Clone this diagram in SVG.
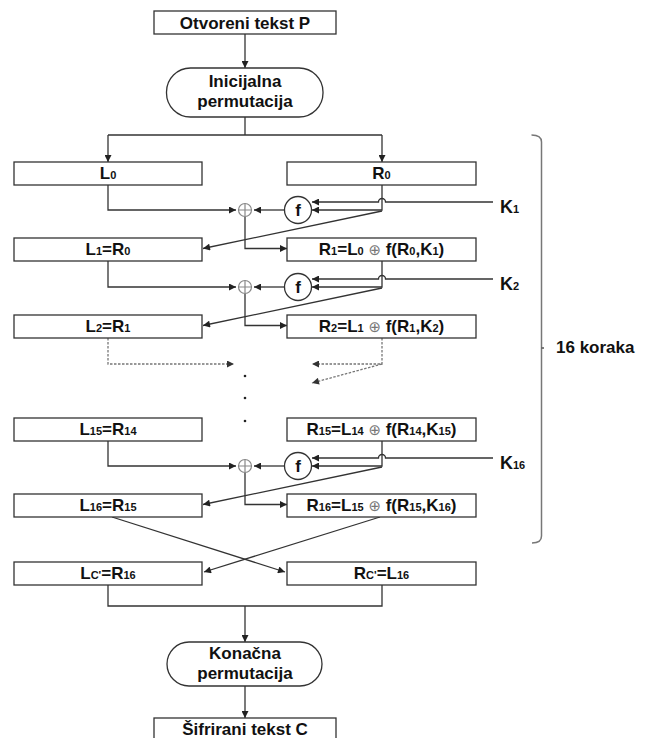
<svg xmlns="http://www.w3.org/2000/svg" width="648" height="738" viewBox="0 0 648 738">
<defs>
<style>
.box{fill:#fff;stroke:#333;stroke-width:1.3}
.t{font-family:"Liberation Sans",Arial,sans-serif;font-weight:bold;font-size:17px;fill:#111;text-anchor:middle}
.lbl{font-family:"Liberation Sans",Arial,sans-serif;font-weight:bold;font-size:17px;fill:#111}
.s{font-size:11px}
.op{font-family:"DejaVu Sans",sans-serif;font-weight:normal;fill:#777;font-size:15px}
.c{fill:none;stroke:#333;stroke-width:1.3}
.d{fill:none;stroke:#777;stroke-width:1.3;stroke-dasharray:2.5 1.5}
.xor{fill:#fff;stroke:#888;stroke-width:1.2}
.fc{fill:#fff;stroke:#333;stroke-width:1.3}
</style>
<marker id="ah" viewBox="0 0 10 10" refX="10" refY="5" markerWidth="8" markerHeight="7" markerUnits="userSpaceOnUse" orient="auto"><path d="M0,0 L10,5 L0,10 z" fill="#222"/></marker>
<marker id="ahg" viewBox="0 0 10 10" refX="10" refY="5" markerWidth="8" markerHeight="7" markerUnits="userSpaceOnUse" orient="auto"><path d="M0,0 L10,5 L0,10 z" fill="#333"/></marker>
</defs>
<rect width="648" height="738" fill="#fff"/>

<g id="connectors">
<path class="c" d="M245 34 V68" marker-end="url(#ah)"/>
<path class="c" d="M245 117 V135"/>
<path class="c" d="M108 135 H382"/>
<path class="c" d="M108 135 V162" marker-end="url(#ah)"/>
<path class="c" d="M382 135 V162" marker-end="url(#ah)"/>
<!-- round 1 -->
<path class="c" d="M108 185 V210 H236" marker-end="url(#ah)"/>
<path class="c" d="M284.5 210 H254" marker-end="url(#ah)"/>
<path class="c" d="M245 216.5 V248.5 H287" marker-end="url(#ah)"/>
<path class="c" d="M382 185 V210 H312" marker-end="url(#ah)"/>
<path class="c" d="M493 202 H385.5 A3.5 3.5 0 0 0 378.5 202 H312" marker-end="url(#ah)"/>
<path class="c" d="M382 211 L203 248.5" marker-end="url(#ah)"/>
<!-- round 2 -->
<path class="c" d="M108 261 V287 H236" marker-end="url(#ah)"/>
<path class="c" d="M284.5 287 H254" marker-end="url(#ah)"/>
<path class="c" d="M245 293.5 V325.5 H287" marker-end="url(#ah)"/>
<path class="c" d="M382 261 V287 H312" marker-end="url(#ah)"/>
<path class="c" d="M493 279 H385.5 A3.5 3.5 0 0 0 378.5 279 H312" marker-end="url(#ah)"/>
<path class="c" d="M382 288 L203 325.5" marker-end="url(#ah)"/>
<!-- dotted continuation -->
<path class="d" d="M108 338 V364 H234" marker-end="url(#ahg)"/>
<path class="d" d="M382 338 V364 H312" marker-end="url(#ahg)"/>
<path class="d" d="M382 364 L312 383" marker-end="url(#ahg)"/>
<!-- round 16 -->
<path class="c" d="M108 441 V466 H236" marker-end="url(#ah)"/>
<path class="c" d="M284.5 466 H254" marker-end="url(#ah)"/>
<path class="c" d="M245 472.5 V504.5 H287" marker-end="url(#ah)"/>
<path class="c" d="M382 441 V466 H312" marker-end="url(#ah)"/>
<path class="c" d="M493 458 H385.5 A3.5 3.5 0 0 0 378.5 458 H312" marker-end="url(#ah)"/>
<path class="c" d="M382 467 L203 504.5" marker-end="url(#ah)"/>
<!-- swap -->
<path class="c" d="M112 517 L285 572" marker-end="url(#ah)"/>
<path class="c" d="M380 517 L204 572" marker-end="url(#ah)"/>
<!-- final -->
<path class="c" d="M108 585 V606 H382 V585"/>
<path class="c" d="M245 606 V642" marker-end="url(#ah)"/>
<path class="c" d="M245 686 V718" marker-end="url(#ah)"/>
</g>

<g id="plaintext">
<rect class="box" x="154" y="11" width="182" height="23"/>
<text class="t" x="245" y="29">Otvoreni tekst P</text>
</g>
<g id="ip">
<rect class="box" x="166.5" y="68" width="156.5" height="49" rx="24" ry="24"/>
<text class="t" x="245" y="87">Inicijalna</text>
<text class="t" x="245" y="107">permutacija</text>
</g>

<g id="L0"><rect class="box" x="14" y="162" width="188" height="23"/><text class="t" x="108" y="179">L<tspan class="s">0</tspan></text></g>
<g id="R0"><rect class="box" x="287" y="162" width="189" height="23"/><text class="t" x="381.5" y="179">R<tspan class="s">0</tspan></text></g>

<g id="xor1"><circle class="xor" cx="245" cy="210" r="6.5"/><path d="M238.5 210 H251.5 M245 203.5 V216.5" stroke="#888" stroke-width="1.2"/></g>
<g id="f1"><circle class="fc" cx="298" cy="210" r="13.5"/><text class="t" x="298" y="216">f</text></g>
<g id="K1"><text class="lbl" x="500" y="213" style="font-size:18px">K<tspan class="s">1</tspan></text></g>

<g id="L1"><rect class="box" x="14" y="238" width="188" height="23"/><text class="t" x="108" y="255">L<tspan class="s">1</tspan>=R<tspan class="s">0</tspan></text></g>
<g id="R1"><rect class="box" x="287" y="238" width="189" height="23"/><text class="t" x="381.5" y="255">R<tspan class="s">1</tspan>=L<tspan class="s">0</tspan> <tspan class="op">⊕</tspan> f(R<tspan class="s">0</tspan>,K<tspan class="s">1</tspan>)</text></g>

<g id="xor2"><circle class="xor" cx="245" cy="287" r="6.5"/><path d="M238.5 287 H251.5 M245 280.5 V293.5" stroke="#888" stroke-width="1.2"/></g>
<g id="f2"><circle class="fc" cx="298" cy="287" r="13.5"/><text class="t" x="298" y="293">f</text></g>
<g id="K2"><text class="lbl" x="500" y="290" style="font-size:18px">K<tspan class="s">2</tspan></text></g>

<g id="L2"><rect class="box" x="14" y="315" width="188" height="23"/><text class="t" x="108" y="332">L<tspan class="s">2</tspan>=R<tspan class="s">1</tspan></text></g>
<g id="R2"><rect class="box" x="287" y="315" width="189" height="23"/><text class="t" x="381.5" y="332">R<tspan class="s">2</tspan>=L<tspan class="s">1</tspan>  <tspan class="op">⊕</tspan>  f(R<tspan class="s">1</tspan>,K<tspan class="s">2</tspan>)</text></g>

<g id="dots" fill="#222"><circle cx="245" cy="376" r="1.3"/><circle cx="245" cy="398" r="1.3"/><circle cx="245" cy="421" r="1.3"/></g>

<g id="L15"><rect class="box" x="14" y="418" width="188" height="23"/><text class="t" x="108" y="435">L<tspan class="s">15</tspan>=R<tspan class="s">14</tspan></text></g>
<g id="R15"><rect class="box" x="287" y="418" width="189" height="23"/><text class="t" x="381.5" y="435">R<tspan class="s">15</tspan>=L<tspan class="s">14</tspan> <tspan class="op">⊕</tspan> f(R<tspan class="s">14</tspan>,K<tspan class="s">15</tspan>)</text></g>

<g id="xor16"><circle class="xor" cx="245" cy="466" r="6.5"/><path d="M238.5 466 H251.5 M245 459.5 V472.5" stroke="#888" stroke-width="1.2"/></g>
<g id="f16"><circle class="fc" cx="298" cy="466" r="13.5"/><text class="t" x="298" y="472">f</text></g>
<g id="K16"><text class="lbl" x="500" y="469" style="font-size:18px">K<tspan class="s">16</tspan></text></g>

<g id="L16"><rect class="box" x="14" y="494" width="188" height="23"/><text class="t" x="108" y="511">L<tspan class="s">16</tspan>=R<tspan class="s">15</tspan></text></g>
<g id="R16"><rect class="box" x="287" y="494" width="189" height="23"/><text class="t" x="381.5" y="511">R<tspan class="s">16</tspan>=L<tspan class="s">15</tspan> <tspan class="op">⊕</tspan> f(R<tspan class="s">15</tspan>,K<tspan class="s">16</tspan>)</text></g>

<g id="LC"><rect class="box" x="14" y="562" width="188" height="23"/><text class="t" x="108" y="579">L<tspan class="s">C'</tspan>=R<tspan class="s">16</tspan></text></g>
<g id="RC"><rect class="box" x="287" y="562" width="189" height="23"/><text class="t" x="381.5" y="579">R<tspan class="s">C'</tspan>=L<tspan class="s">16</tspan></text></g>

<g id="fp">
<rect class="box" x="167" y="642" width="155" height="44" rx="22" ry="22"/>
<text class="t" x="245" y="659">Konačna</text>
<text class="t" x="245" y="679">permutacija</text>
</g>
<g id="ciphertext">
<rect class="box" x="154" y="718" width="182" height="23"/>
<text class="t" x="245" y="735">Šifrirani tekst C</text>
</g>

<g id="brace">
<path d="M531.5 135 Q541.5 135 541.5 142 V536 Q541.5 543 532 543" fill="none" stroke="#777" stroke-width="1.5"/>
<path d="M541.5 348 H544" stroke="#555" stroke-width="1.5"/>
<text class="lbl" x="556" y="353" style="font-size:17px">16 koraka</text>
</g>
</svg>
